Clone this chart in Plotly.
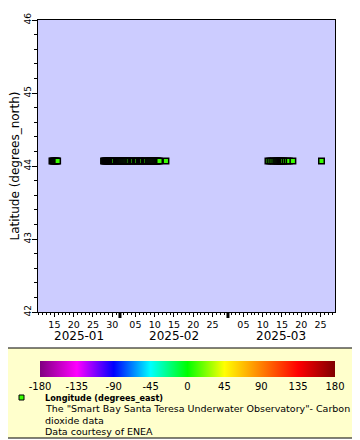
import plotly.graph_objects as go
import pandas as pd

# ---------------- data ----------------
STATION_LAT = 44.07          # degrees_north (fixed station)
STATION_LON = 9.85           # degrees_east (fixed station)

TIMES = [
    # mid January
    "2025-01-14 09:00", "2025-01-14 15:00", "2025-01-14 21:00", "2025-01-15 03:00",
    "2025-01-15 09:00", "2025-01-15 15:00", "2025-01-15 20:00",
    # late January - mid February
    "2025-01-27 18:00", "2025-01-28 00:00", "2025-01-28 06:00", "2025-01-28 12:00",
    "2025-01-28 18:00", "2025-01-29 00:00", "2025-01-29 06:00", "2025-01-29 12:00",
    "2025-01-29 18:00", "2025-01-30 00:00", "2025-01-30 06:00", "2025-01-30 12:00",
    "2025-01-31 00:00", "2025-01-31 06:00", "2025-01-31 12:00", "2025-01-31 18:00",
    "2025-02-01 00:00", "2025-02-01 06:00", "2025-02-01 12:00", "2025-02-01 18:00",
    "2025-02-02 00:00", "2025-02-02 06:00", "2025-02-02 12:00", "2025-02-02 18:00",
    "2025-02-03 00:00", "2025-02-03 06:00", "2025-02-03 12:00",
    "2025-02-04 00:00", "2025-02-04 06:00", "2025-02-04 12:00",
    "2025-02-05 00:00", "2025-02-05 06:00", "2025-02-05 12:00",
    "2025-02-06 00:00", "2025-02-06 06:00", "2025-02-06 12:00", "2025-02-06 18:00",
    "2025-02-07 06:00", "2025-02-07 12:00", "2025-02-07 18:00",
    "2025-02-08 06:00", "2025-02-08 12:00", "2025-02-08 18:00",
    "2025-02-09 00:00", "2025-02-09 06:00", "2025-02-09 12:00", "2025-02-09 18:00",
    "2025-02-10 00:00", "2025-02-10 06:00", "2025-02-10 12:00", "2025-02-10 18:00",
    "2025-02-11 00:00", "2025-02-11 06:00",
    "2025-02-12 22:00",
    # mid March
    "2025-03-11 09:00", "2025-03-11 21:00", "2025-03-12 09:00", "2025-03-12 21:00",
    "2025-03-13 09:00", "2025-03-13 15:00", "2025-03-13 21:00", "2025-03-14 03:00",
    "2025-03-14 09:00", "2025-03-14 15:00", "2025-03-14 21:00", "2025-03-15 03:00",
    "2025-03-15 09:00", "2025-03-15 21:00", "2025-03-16 09:00", "2025-03-16 21:00",
    "2025-03-17 20:00",
    # late March
    "2025-03-25 06:00",
]
LATITUDE = [STATION_LAT] * len(TIMES)
LONGITUDE = [STATION_LON] * len(TIMES)

X_RANGE = ["2025-01-10 18:00", "2025-03-28 18:00"]
Y_RANGE = [42, 46]

DAY_TICKS = ["2025-01-15", "2025-01-20", "2025-01-25", "2025-01-30",
             "2025-02-05", "2025-02-10", "2025-02-15", "2025-02-20", "2025-02-25",
             "2025-03-05", "2025-03-10", "2025-03-15", "2025-03-20", "2025-03-25"]
DAY_LABELS = ["15", "20", "25", "30", "05", "10", "15", "20", "25",
              "05", "10", "15", "20", "25"]
MONTH_STARTS = ["2025-02-01", "2025-03-01"]
MONTH_LABELS = ["2025-01", "2025-02", "2025-03"]

CBAR_TICKS = [-180, -135, -90, -45, 0, 45, 90, 135, 180]
CBAR_LABELS = ["-180", "-135", "-90", "-45", "0", "45", "90", "135", "180"]
CBAR_COLORS = ["#800080", "#ff00ff", "#0000ff", "#00ffff", "#00ff00",
               "#ffff00", "#ff8000", "#ff0000", "#800000"]

LEGEND_TITLE = "Longitude (degrees_east)"
LEGEND_LINES = ['The "Smart Bay Santa Teresa Underwater Observatory"- Carbon',
                "dioxide data",
                "Data courtesy of ENEA"]

# ---------------- layout helpers ----------------
# the page body has an 8px margin, so the figure is drawn 8px in from the corner
OFF = 8
W, H = 360 - OFF, 440 - OFF
# plot area in window pixels
PL, PR, PT, PB = 38, 335, 20, 312
FONT = "DejaVu Sans"


def xp(px):
    return (px - PL) / (PR - PL)


def yp(py):
    return (PB - py) / (PB - PT)


colorscale = [[i / (len(CBAR_COLORS) - 1), c] for i, c in enumerate(CBAR_COLORS)]

fig = go.Figure()
fig.add_trace(go.Scatter(
    x=pd.to_datetime(TIMES), y=LATITUDE, mode="markers",
    marker=dict(symbol="square", size=5.5, color=LONGITUDE,
                cmin=-180, cmax=180, colorscale=colorscale,
                line=dict(color="black", width=1.5),
                showscale=True,
                colorbar=dict(orientation="h", lenmode="pixels", len=295,
                              thickness=16, xanchor="center", x=xp(187.5),
                              yanchor="top", y=yp(361), ypad=0, xpad=0,
                              outlinewidth=0, tickvals=CBAR_TICKS, ticktext=CBAR_LABELS,
                              ticks="", tickfont=dict(family=FONT, size=10, color="black"))),
    hoverinfo="x+y", showlegend=False,
))

# legend panel box
shapes = [dict(type="rect", xref="paper", yref="paper",
               x0=xp(0.5), x1=xp(357.5), y0=yp(348), y1=yp(438),
               fillcolor="#ffffcc", line=dict(color="black", width=1), layer="below")]
# legend marker sample
shapes.append(dict(type="rect", xref="paper", yref="paper",
                   x0=xp(19), x1=xp(24), y0=yp(400), y1=yp(395),
                   fillcolor="rgb(56,255,0)", line=dict(color="black", width=1)))
# thick month ticks
for m in MONTH_STARTS:
    shapes.append(dict(type="line", xref="x", yref="paper", x0=m, x1=m,
                       y0=0, y1=-6 / (PB - PT), line=dict(color="black", width=3)))

annotations = []
# month labels centred on the visible part of each month
xr0, xr1 = pd.Timestamp(X_RANGE[0]), pd.Timestamp(X_RANGE[1])
bounds = [xr0] + [pd.Timestamp(m) for m in MONTH_STARTS] + [xr1]
for lab, a, b in zip(MONTH_LABELS, bounds[:-1], bounds[1:]):
    annotations.append(dict(x=a + (b - a) / 2, xref="x", y=yp(336), yref="paper",
                            text=lab, showarrow=False, xanchor="center", yanchor="middle",
                            font=dict(family=FONT, size=12, color="black")))
annotations.append(dict(x=xp(42.5), y=yp(398), xref="paper", yref="paper",
                        text="<b>" + LEGEND_TITLE + "</b>", showarrow=False,
                        xanchor="left", yanchor="middle",
                        font=dict(family=FONT, size=8.2, color="black")))
for i, line in enumerate(LEGEND_LINES):
    annotations.append(dict(x=xp(42.5), y=yp(409 + 11 * i), xref="paper", yref="paper",
                            text=line, showarrow=False, xanchor="left", yanchor="middle",
                            font=dict(family=FONT, size=9.5, color="black")))

fig.update_layout(
    width=W, height=H,
    margin=dict(l=PL - OFF, r=360 - PR, t=PT - OFF, b=440 - PB, pad=0, autoexpand=False),
    paper_bgcolor="white", plot_bgcolor="#ccccff",
    font=dict(family=FONT, color="black"),
    shapes=shapes, annotations=annotations,
    xaxis=dict(type="date", range=X_RANGE, tickvals=DAY_TICKS, ticktext=DAY_LABELS,
               ticks="outside", ticklen=4, tickcolor="black", tickwidth=1,
               minor=dict(dtick=86400000, tick0="2025-01-01", ticks="outside",
                          ticklen=2, tickcolor="black"),
               showline=True, linecolor="black", linewidth=1, mirror=True,
               showgrid=False, zeroline=False, automargin=False,
               tickfont=dict(family=FONT, size=9.5, color="black")),
    yaxis=dict(range=Y_RANGE, dtick=1, tick0=42, ticks="outside", ticklen=5,
               tickcolor="black", tickwidth=1, tickangle=-90, ticklabelstandoff=-3,
               minor=dict(dtick=0.2, ticks="outside", ticklen=3, tickcolor="black"),
               showline=True, linecolor="black", linewidth=1, mirror=True,
               showgrid=False, zeroline=False, automargin=False,
               tickfont=dict(family=FONT, size=9, color="black"),
               title=dict(text="Latitude (degrees_north)", standoff=8,
                          font=dict(family=FONT, size=12, color="black"))),
)

fig.write_html("out.html")
